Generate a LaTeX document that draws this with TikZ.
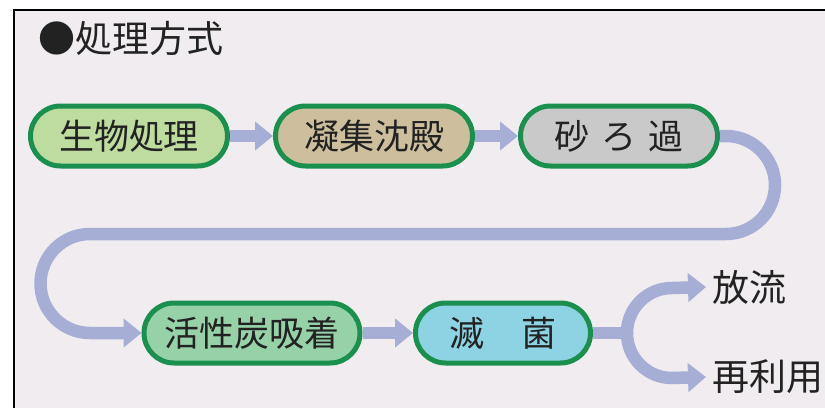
\documentclass[tikz,border=0pt]{standalone}
\usepackage{fontspec}
\newfontfamily\jp{Noto Sans CJK JP}
\usetikzlibrary{arrows.meta}
\definecolor{bgc}{HTML}{F0ECEF}
\definecolor{bordergreen}{HTML}{1A8F4E}
\definecolor{pipec}{HTML}{A6AED6}
\definecolor{textc}{HTML}{222222}
\definecolor{fillA}{HTML}{BEDCA0}
\definecolor{fillB}{HTML}{CDBF9E}
\definecolor{fillC}{HTML}{C9C9C9}
\definecolor{fillD}{HTML}{97D1A8}
\definecolor{fillE}{HTML}{8ED3E3}
\begin{document}
\begin{tikzpicture}[x=1pt,y=1pt,
  stage/.style={draw=bordergreen, line width=5pt, rounded corners=30pt,
    minimum height=60pt, inner sep=0pt, text=textc,
    font=\jp\fontsize{35}{35}\selectfont},
  pipe/.style={draw=pipec, line width=12.5pt},
  tipped/.style={-{Triangle[length=18pt,width=28pt]}},
  label/.style={anchor=west, inner sep=0pt, text=textc,
    font=\jp\fontsize{37}{37}\selectfont}]
\useasboundingbox (0,0) rectangle (825,408);
\fill[white] (0,0) rectangle (825,408);
\fill[bgc] (14,0) rectangle (825,398);
\draw[black, line width=2.5pt] (14,0) -- (14,398) -- (825,398);

\node[label] (title) at (38,370) {●処理方式};

\node[stage, fill=fillA, minimum width=197pt] (n1) at (129,272) {生物処理};
\node[stage, fill=fillB, minimum width=197pt] (n2) at (374,272) {凝集沈殿};
\node[stage, fill=fillC, minimum width=197pt] (n3) at (619,272) {砂\hspace{12pt}ろ\hspace{12pt}過};
\node[stage, fill=fillD, minimum width=216pt] (n4) at (252,75) {活性炭吸着};
\node[stage, fill=fillE, minimum width=175pt] (n5) at (503,75) {滅\hspace{38pt}菌};

\node[label] (out1) at (712,121) {放流};
\node[label] (out2) at (712,31) {再利用};

\coordinate (r1) at (726,272);
\coordinate (l1) at (90,174);
\coordinate (cl) at (627,75);

\draw[pipe, tipped] (n1.east) -- (n2.west);
\draw[pipe, tipped] (n2.east) -- (n3.west);
\draw[pipe, tipped] (n3.east) -- (r1) arc[start angle=90, end angle=-90, radius=49]
  -- (l1) arc[start angle=90, end angle=270, radius=49.5] -- (n4.west);
\draw[pipe, tipped] (n4.east) -- (n5.west);
\draw[pipe] (n5.east) -- (cl);
\draw[pipe, tipped] (cl) arc[start angle=180, end angle=90, radius=45] -- (out1.west -| 706,0);
\draw[pipe, tipped] (cl) arc[start angle=180, end angle=270, radius=45] -- (out2.west -| 706,0);
\end{tikzpicture}
\end{document}
